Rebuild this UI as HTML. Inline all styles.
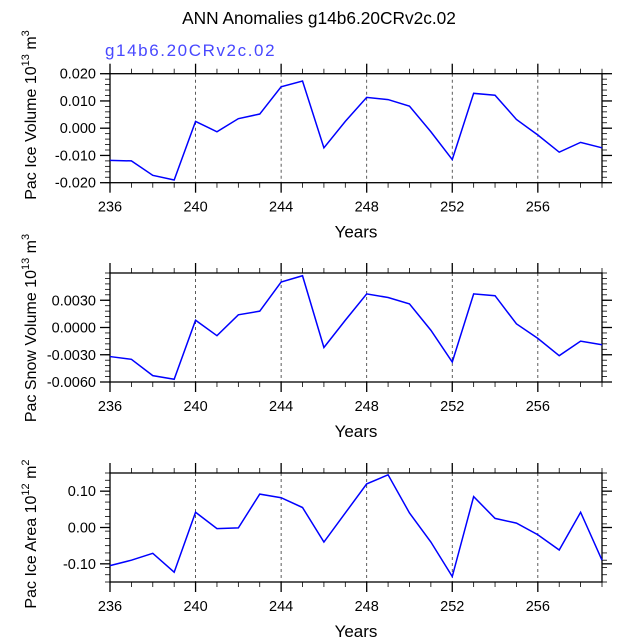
<!DOCTYPE html>
<html><head><meta charset="utf-8"><style>
body{margin:0;background:#fff}
svg{display:block;font-family:"Liberation Sans",Arial,sans-serif}
</style></head><body>
<svg id="c" width="638" height="638" xmlns="http://www.w3.org/2000/svg">
<text x="319" y="24" text-anchor="middle" font-size="17.3">ANN Anomalies g14b6.20CRv2c.02</text>
<text x="105" y="56" font-size="17" letter-spacing="1.6" fill="#4848ff">g14b6.20CRv2c.02</text>
</svg>
<script>
const years=[236,237,238,239,240,241,242,243,244,245,246,247,248,249,250,251,252,253,254,255,256,257,258,259];
const iceVolume=[-0.0118,-0.012,-0.0173,-0.019,0.0025,-0.0013,0.0035,0.0052,0.0152,0.0173,-0.0072,0.0025,0.0113,0.0105,0.0081,-0.0013,-0.0115,0.0128,0.0121,0.0032,-0.0025,-0.0088,-0.0052,-0.0072];
const snowVolume=[-0.0032,-0.0035,-0.0053,-0.0057,0.0008,-0.0009,0.0014,0.0018,0.005,0.0057,-0.0022,0.0008,0.0037,0.0033,0.0026,-0.0003,-0.0038,0.0037,0.0035,0.0004,-0.0012,-0.0031,-0.0015,-0.0019];
const iceArea=[-0.105,-0.09,-0.071,-0.123,0.042,-0.003,-0.001,0.092,0.082,0.055,-0.04,0.04,0.12,0.145,0.04,-0.04,-0.135,0.085,0.025,0.012,-0.02,-0.062,0.042,-0.09];
const xTicks=[236,240,244,248,252,256];
const iceVolTicks=[0.02,0.01,0,-0.01,-0.02];
const iceVolTickLabels=["0.020","0.010","0.000","-0.010","-0.020"];
const snowTicks=[0.003,0,-0.003,-0.006];
const snowTickLabels=["0.0030","0.0000","-0.0030","-0.0060"];
const areaTicks=[0.1,0,-0.1];
const areaTickLabels=["0.10","0.00","-0.10"];

const svg=document.getElementById('c');
const NS="http://www.w3.org/2000/svg";
function mk(t,a,p){const e=document.createElementNS(NS,t);for(const k in a)e.setAttribute(k,a[k]);(p||svg).appendChild(e);return e;}
const L=110,R=602;
function xs(v){return L+(v-236)/(259-236)*(R-L);}

function panel(name,top,bot,ymin,ymax,vals,ticks,labels,minorStep,lab,exp,unit,labCy){
  const g=mk('g',{});
  
  
  const ys=v=>bot-(v-ymin)/(ymax-ymin)*(bot-top);
  xTicks.forEach(t=>{if(t>236){const l=mk('line',{x1:xs(t),x2:xs(t),y1:top,y2:bot,stroke:'#333','stroke-width':0.8,'stroke-dasharray':'3,3'},g);
    
    }});
  const fr=mk('rect',{x:L,y:top,width:R-L,height:bot-top,fill:'none',stroke:'#000','stroke-width':1.3},g);
  
  
  for(let y=236;y<=259;y++){const maj=xTicks.includes(y);const len=maj?10:5;
    mk('line',{x1:xs(y),x2:xs(y),y1:bot,y2:bot+len,stroke:'#000','stroke-width':maj?1.3:0.8},g);
    mk('line',{x1:xs(y),x2:xs(y),y1:top,y2:top-len,stroke:'#000','stroke-width':maj?1.3:0.8},g);}
  xTicks.forEach(t=>{const tx=mk('text',{x:xs(t),y:bot+29,'text-anchor':'middle','font-size':14.5},g);tx.textContent=t;
    
    });
  for(let v=ymin;v<=ymax+1e-9;v+=minorStep){const y=ys(v);
    mk('line',{x1:L,x2:L-5,y1:y,y2:y,stroke:'#000','stroke-width':0.8},g);
    mk('line',{x1:R,x2:R+5,y1:y,y2:y,stroke:'#000','stroke-width':0.8},g);}
  ticks.forEach((t,i)=>{const y=ys(t);
    mk('line',{x1:L,x2:L-10,y1:y,y2:y,stroke:'#000','stroke-width':1.3},g);
    mk('line',{x1:R,x2:R+10,y1:y,y2:y,stroke:'#000','stroke-width':1.3},g);
    const tx=mk('text',{x:L-14,y:y+5,'text-anchor':'end','font-size':14.5},g);tx.textContent=labels[i];
    
    });
  const pl=mk('polyline',{points:vals.map((v,i)=>xs(years[i])+','+ys(v)).join(' '),fill:'none',stroke:'#0000ff','stroke-width':1.5},g);
  
  
  const xl=mk('text',{x:(L+R)/2,y:bot+55,'text-anchor':'middle','font-size':17},g);xl.textContent='Years';
  
  
  const yl=mk('text',{x:0,y:0,'text-anchor':'middle','font-size':16,transform:`translate(36,${labCy}) rotate(-90)`},g);
  
  
  const a=document.createElementNS(NS,'tspan');a.textContent=lab+' 10';yl.appendChild(a);
  const b=document.createElementNS(NS,'tspan');b.setAttribute('dy','-7');b.setAttribute('font-size','11');b.textContent=exp;yl.appendChild(b);
  const c=document.createElementNS(NS,'tspan');c.setAttribute('dy','7');c.textContent=' m';yl.appendChild(c);
  const d=document.createElementNS(NS,'tspan');d.setAttribute('dy','-7');d.setAttribute('font-size','11');d.textContent=unit;yl.appendChild(d);
}
panel('ice-volume',73.7,182.7,-0.02,0.02,iceVolume,iceVolTicks,iceVolTickLabels,0.002,'Pac Ice Volume','13','3',115);
panel('snow-volume',273,382,-0.006,0.006,snowVolume,snowTicks,snowTickLabels,0.0006,'Pac Snow Volume','13','3',328);
panel('ice-area',473,582,-0.15,0.15,iceArea,areaTicks,areaTickLabels,0.02,'Pac Ice Area','12','2',534);
</script>
</body></html>
